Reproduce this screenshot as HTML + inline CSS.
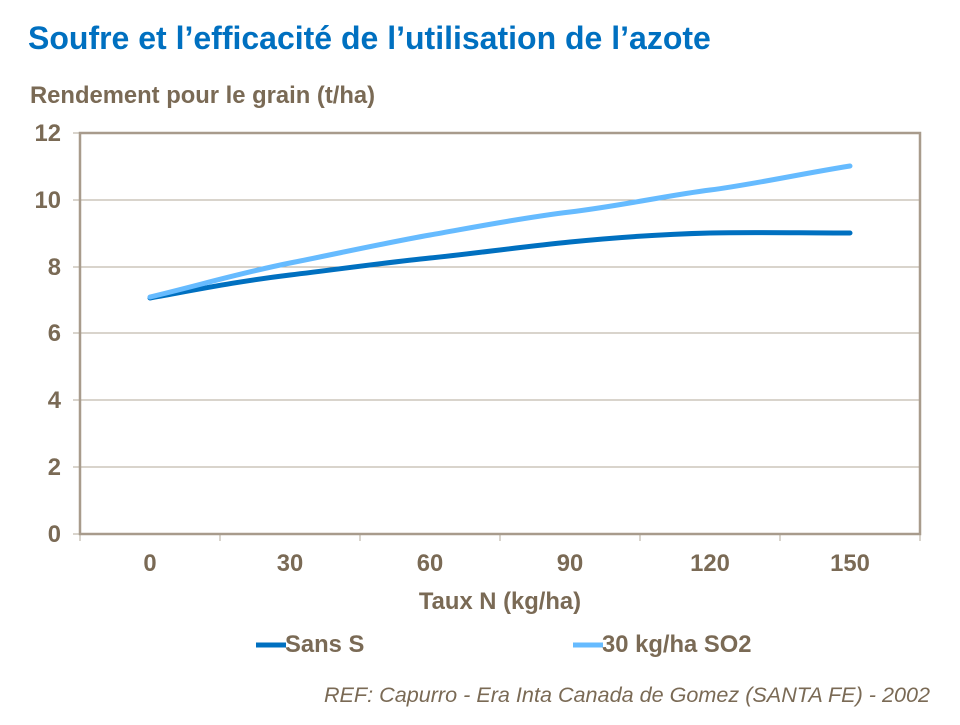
<!DOCTYPE html>
<html><head><meta charset="utf-8"><style>
body{margin:0;width:960px;height:720px;background:#fff;overflow:hidden;font-family:"Liberation Sans",sans-serif}
</style></head><body>
<svg width="960" height="720" xmlns="http://www.w3.org/2000/svg" font-family="Liberation Sans, sans-serif">
<text x="28" y="49" font-size="32" font-weight="bold" fill="#0070c0">Soufre et l’efficacité de l’utilisation de l’azote</text>
<text x="30" y="103" font-size="23.8" font-weight="bold" fill="#7a6a55">Rendement pour le grain (t/ha)</text>
<g stroke="#b3a899" stroke-width="1">
<line x1="80" y1="200" x2="920" y2="200"/><line x1="80" y1="267" x2="920" y2="267"/>
<line x1="80" y1="333" x2="920" y2="333"/><line x1="80" y1="400" x2="920" y2="400"/>
<line x1="80" y1="467" x2="920" y2="467"/>
<line x1="73" y1="133" x2="80" y2="133"/><line x1="73" y1="200" x2="80" y2="200"/><line x1="73" y1="267" x2="80" y2="267"/><line x1="73" y1="333" x2="80" y2="333"/><line x1="73" y1="400" x2="80" y2="400"/><line x1="73" y1="467" x2="80" y2="467"/><line x1="73" y1="534" x2="80" y2="534"/>
<line x1="220" y1="534" x2="220" y2="541"/><line x1="360" y1="534" x2="360" y2="541"/><line x1="500" y1="534" x2="500" y2="541"/><line x1="640" y1="534" x2="640" y2="541"/><line x1="780" y1="534" x2="780" y2="541"/><line x1="920" y1="534" x2="920" y2="541"/><line x1="80" y1="534" x2="80" y2="541"/>
</g>
<rect x="80" y="133" width="840" height="401" fill="none" stroke="#a89b8c" stroke-width="2.5"/>
<g font-size="23.8" font-weight="bold" fill="#7a6a55" text-anchor="end">
<text x="61" y="141">12</text><text x="61" y="208">10</text><text x="61" y="275">8</text><text x="61" y="341">6</text><text x="61" y="408">4</text><text x="61" y="475">2</text><text x="61" y="542">0</text>
</g>
<g font-size="23.8" font-weight="bold" fill="#7a6a55" text-anchor="middle">
<text x="150" y="571">0</text><text x="290" y="571">30</text><text x="430" y="571">60</text><text x="570" y="571">90</text><text x="710" y="571">120</text><text x="850" y="571">150</text>
<text x="500" y="609">Taux N (kg/ha)</text>
</g>
<path d="M150,298 C200,289 240,281 290,275 S390,262 430,258 S520,247 570,242 S670,234 710,233 S800,233 850,233" fill="none" stroke="#0070c0" stroke-width="5" stroke-linecap="round"/>
<path d="M150,297 C200,285 240,273 290,263 S390,242 430,235 S520,218 570,212 S670,195 710,190 S800,174 850,166" fill="none" stroke="#66bbff" stroke-width="5" stroke-linecap="round"/>
<line x1="256" y1="645" x2="286" y2="645" stroke="#0070c0" stroke-width="5"/>
<text x="285" y="652" font-size="23.8" font-weight="bold" fill="#7a6a55">Sans S</text>
<line x1="573" y1="645" x2="603" y2="645" stroke="#66bbff" stroke-width="5"/>
<text x="602" y="652" font-size="23.8" font-weight="bold" fill="#7a6a55">30 kg/ha SO2</text>
<text x="930" y="702" font-size="21.6" font-style="italic" fill="#7a6a55" text-anchor="end">REF: Capurro -  Era Inta Canada de Gomez (SANTA FE) - 2002</text>
</svg>
</body></html>
